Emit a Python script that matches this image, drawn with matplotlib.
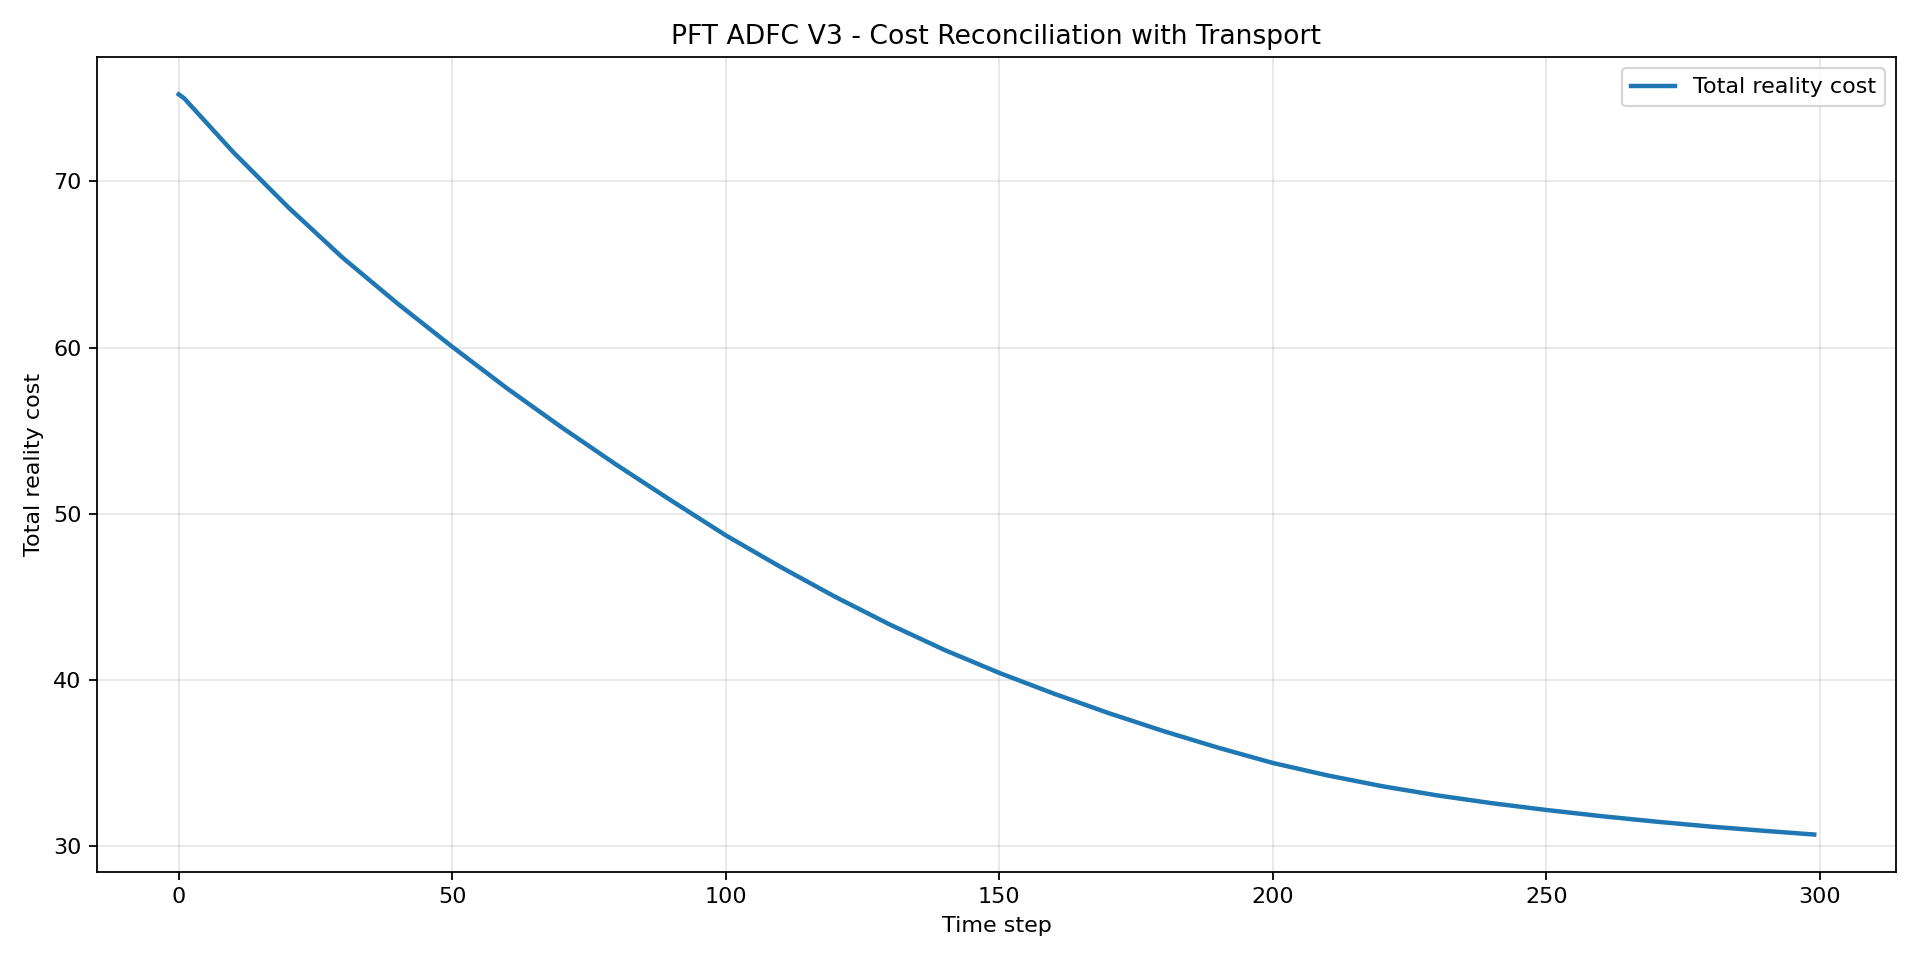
import matplotlib.pyplot as plt

# readings taken off the reference curve
steps = [0, 1, 10, 20, 30, 40, 50, 60, 70, 80, 90, 100, 110, 120, 130, 140,
         150, 160, 170, 180, 190, 200, 210, 220, 230, 240, 250, 260, 270,
         280, 290, 299]
total_cost = [75.24, 75.0, 71.75, 68.45, 65.4, 62.65, 60.05, 57.55, 55.2,
              52.95, 50.8, 48.7, 46.8, 45.0, 43.33, 41.8, 40.42, 39.17, 38.0,
              36.92, 35.92, 35.0, 34.25, 33.6, 33.05, 32.58, 32.17, 31.8,
              31.47, 31.17, 30.91, 30.69]

fig, ax = plt.subplots(figsize=(12, 6), dpi=160)

ax.plot(steps, total_cost, color='#1f77b4', linewidth=2,
        label='Total reality cost')

ax.set_xlabel('Time step')
ax.set_ylabel('Total reality cost')
ax.set_title('PFT ADFC V3 - Cost Reconciliation with Transport')
ax.grid(True, alpha=0.3)
ax.legend(loc='upper right')

plt.tight_layout()
plt.savefig('out.png')
plt.close()
